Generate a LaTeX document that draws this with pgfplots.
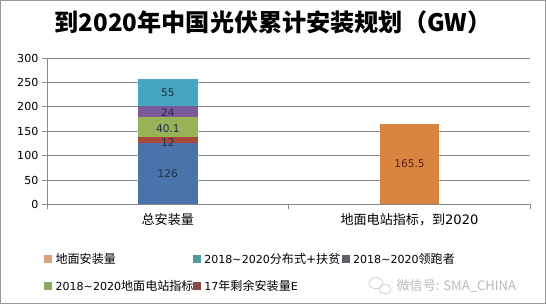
\documentclass[border=0pt]{standalone}
\usepackage{pgfplots}
\pgfplotsset{compat=1.18}
\usepackage{fontspec}
\setmainfont{DejaVu Sans}
\newfontfamily\cjk{Noto Sans CJK SC}
\definecolor{cblue}{HTML}{4A74A9}
\definecolor{cred}{HTML}{A9473F}
\definecolor{cgreen}{HTML}{98B356}
\definecolor{cpurple}{HTML}{7B5A9C}
\definecolor{cteal}{HTML}{46A5C0}
\definecolor{corange}{HTML}{D9853F}
\definecolor{lorange}{HTML}{D9A27C}
\definecolor{lteal}{HTML}{4C9DA6}
\definecolor{lgray}{HTML}{5F5F6B}
\definecolor{lgreen}{HTML}{8DA866}
\definecolor{lred}{HTML}{8B4B4B}
\definecolor{labtxt}{HTML}{1F2F48}
\definecolor{labred}{HTML}{5A1E14}
\definecolor{gridc}{HTML}{8A8A8A}
\pgfplotsset{lsq/.style={legend image code/.code={\fill[#1] (0bp,-3.5bp) rectangle (7bp,3.5bp);}}}
\newcommand\LL[1]{{\fontsize{11}{14}\selectfont #1}}
\begin{document}
\begin{tikzpicture}[x=1bp,y=1bp]
\draw[draw=black!40, line width=1bp] (3,6) rectangle (543,306);
\node[font=\fontsize{24}{28}\selectfont\cjk\bfseries] at (273,284) {到2020年中国光伏累计安装规划（GW）};
\begin{axis}[
  at={(49bp,104bp)}, anchor=south west,
  width=479bp, height=145bp, scale only axis,
  ybar stacked, bar width=59bp,
  xmin=-0.5, xmax=1.5, ymin=0, ymax=300,
  xtick={-0.5,0.5,1.5}, xticklabels={,,},
  extra x ticks={0,1},
  extra x tick labels={{\cjk 总安装量},{\cjk 地面电站指标，到}2020},
  extra x tick style={major tick length=0pt, tick label style={font=\fontsize{13}{15}\selectfont, yshift=-6bp}},
  ytick={0,50,...,300},
  yticklabel style={font=\fontsize{11}{13}\selectfont},
  /pgf/number format/assume math mode=true,
  tick align=outside, major tick length=5bp,
  tick style={draw=gridc, line width=0.8bp},
  axis lines*=left,
  axis line style={draw=gridc, line width=0.8bp, -},
  ymajorgrids, grid style={draw=gridc, line width=0.8bp},
  legend columns=3,
  legend style={at={(-0.0125,-0.305)}, anchor=north west, draw=none, fill=none,
    font=\fontsize{12}{14}\selectfont, row sep=11bp,
    /tikz/every odd column/.append style={column sep=2bp}},
  legend cell align=left,
]
\addplot[fill=cblue, draw=none, forget plot] coordinates {(0,126) (1,0)};
\addplot[fill=cred, draw=none, forget plot] coordinates {(0,12) (1,0)};
\addplot[fill=cgreen, draw=none, forget plot] coordinates {(0,40.1) (1,0)};
\addplot[fill=cpurple, draw=none, forget plot] coordinates {(0,24) (1,0)};
\addplot[fill=cteal, draw=none, forget plot] coordinates {(0,55) (1,0)};
\addplot[fill=corange, draw=none, forget plot] coordinates {(0,0) (1,165.5)};
\addlegendimage{lsq=lorange}
\addlegendentry{\makebox[134bp][l]{\cjk 地面安装量}}
\addlegendimage{lsq=lteal}
\addlegendentry{\makebox[134bp][l]{\LL{2018\textasciitilde 2020}{\cjk 分布式}+{\cjk 扶贫}}}
\addlegendimage{lsq=lgray}
\addlegendentry{\LL{2018\textasciitilde 2020}{\cjk 领跑者}}
\addlegendimage{lsq=lgreen}
\addlegendentry{\makebox[134bp][l]{\LL{2018\textasciitilde 2020}{\cjk 地面电站指标}}}
\addlegendimage{lsq=lred}
\addlegendentry{\makebox[134bp][l]{\LL{17}{\cjk 年剩余安装量}\LL{E}}}
\end{axis}
\begin{axis}[
  at={(49bp,104bp)}, anchor=south west,
  width=479bp, height=145bp, scale only axis,
  xmin=-0.5, xmax=1.5, ymin=0, ymax=300, hide axis,
]
\addplot[draw=none, mark=none, nodes near coords, point meta=explicit symbolic,
  nodes near coords style={anchor=center, font=\fontsize{10.5}{12}\selectfont, text=labtxt}]
  coordinates {(0,62)[126] (0,127)[12] (0,156)[40.1] (0,189)[24] (0,229)[55]};
\addplot[draw=none, mark=none, nodes near coords, point meta=explicit symbolic,
  nodes near coords style={anchor=center, font=\fontsize{10.5}{12}\selectfont, text=labred}]
  coordinates {(1,82.75)[165.5]};
\end{axis}
\draw[gray!35, line width=0.8bp] (375,26) ellipse (7 and 5.5);
\draw[gray!35, line width=0.8bp] (384,20) ellipse (6 and 4.5);
\node[anchor=west, text=gray!55, font=\fontsize{13}{15}\selectfont\cjk] at (392,23) {微信号: SMA\_CHINA};
\end{tikzpicture}
\end{document}
